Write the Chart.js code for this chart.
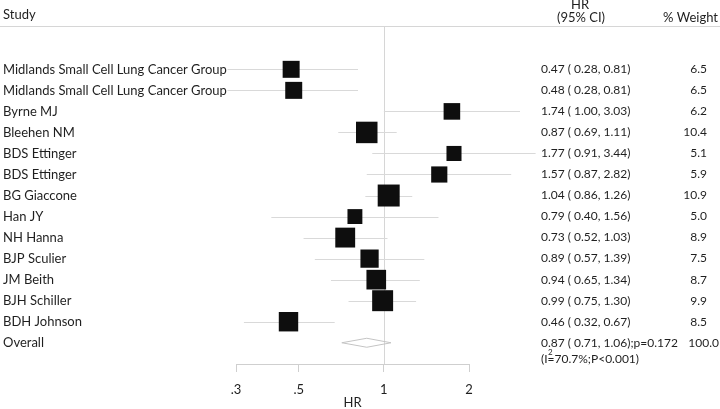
<!DOCTYPE html>
<html>
<head>
<meta charset="utf-8">
<script src="https://cdn.jsdelivr.net/npm/chart.js@4.4.1/dist/chart.umd.min.js"></script>
<style>
  html, body { margin: 0; padding: 0; background: #fff; }
  #plot { display: block; }
</style>
</head>
<body>
<canvas id="plot" width="720" height="409"></canvas>
<script>
const plot = document.querySelector("#plot");
const ctx = plot.getContext("2d");

const studies = [
  "Midlands Small Cell Lung Cancer Group",
  "Midlands Small Cell Lung Cancer Group",
  "Byrne MJ",
  "Bleehen NM",
  "BDS Ettinger",
  "BDS Ettinger",
  "BG Giaccone",
  "Han JY",
  "NH Hanna",
  "BJP Sculier",
  "JM Beith",
  "BJH Schiller",
  "BDH Johnson"
];
const hr = [0.47, 0.48, 1.74, 0.87, 1.77, 1.57, 1.04, 0.79, 0.73, 0.89, 0.94, 0.99, 0.46];
const ciLow = [0.28, 0.28, 1.00, 0.69, 0.91, 0.87, 0.86, 0.40, 0.52, 0.57, 0.65, 0.75, 0.32];
const ciHigh = [0.81, 0.81, 3.03, 1.11, 3.44, 2.82, 1.26, 1.56, 1.03, 1.39, 1.34, 1.30, 0.67];
const weights = [6.5, 6.5, 6.2, 10.4, 5.1, 5.9, 10.9, 5.0, 8.9, 7.5, 8.7, 9.9, 8.5];

const overallLabel = "Overall";
const overallHR = [0.87, 0.71, 1.06];   // estimate, low, high
const overallP = "0.172";
const overallWeight = "100.0";
const heterogeneity = ["70.7%", "P<0.001"];

const xTicks = [0.3, 0.5, 1, 2];
const xTickLabels = [".3", ".5", "1", "2"];

const FONT = "Lato, 'Open Sans', sans-serif";
const INK = "#1f1f1f";
const RULE = "#d6d6d6";

const f2 = v => v.toFixed(2);
const hrText = (e, l, h) => f2(e) + " ( " + f2(l) + ", " + f2(h) + ")";

// square area proportional to weight
const radii = weights.map(w => 4.71 * Math.sqrt(w));

const forestLayer = {
  id: "forestLayer",
  beforeDatasetsDraw(chart) {
    const { ctx, chartArea, scales: { x, y } } = chart;
    ctx.save();
    ctx.lineWidth = 1;
    ctx.strokeStyle = RULE;
    // header rule
    ctx.beginPath();
    ctx.moveTo(0, Math.round(chartArea.top) + 0.5);
    ctx.lineTo(chart.width, Math.round(chartArea.top) + 0.5);
    ctx.stroke();
    // null line at HR = 1
    const nx = Math.round(x.getPixelForValue(1)) + 0.5;
    ctx.beginPath();
    ctx.moveTo(nx, chartArea.top);
    ctx.lineTo(nx, chartArea.bottom);
    ctx.stroke();
    // confidence intervals
    ctx.strokeStyle = "#d9d9d9";
    for (let i = 0; i < studies.length; i++) {
      const py = Math.round(y.getPixelForValue(i)) + 0.5;
      ctx.beginPath();
      ctx.moveTo(x.getPixelForValue(ciLow[i]), py);
      ctx.lineTo(x.getPixelForValue(ciHigh[i]), py);
      ctx.stroke();
    }
    // pooled diamond
    const dy = y.getPixelForValue(studies.length);
    ctx.strokeStyle = "#c4c4c4";
    ctx.beginPath();
    ctx.moveTo(x.getPixelForValue(overallHR[1]), dy);
    ctx.lineTo(x.getPixelForValue(overallHR[0]), dy - 4.5);
    ctx.lineTo(x.getPixelForValue(overallHR[2]), dy);
    ctx.lineTo(x.getPixelForValue(overallHR[0]), dy + 4.5);
    ctx.closePath();
    ctx.stroke();
    ctx.restore();
  },
  afterDraw(chart) {
    const { ctx, scales: { y } } = chart;
    const big = "13px " + FONT;
    const num = "12px " + FONT;
    ctx.save();
    ctx.fillStyle = INK;
    ctx.font = big;
    ctx.textBaseline = "middle";

    // header
    ctx.textAlign = "left";
    ctx.fillText("Study", 3, 15);
    ctx.textAlign = "center";
    ctx.fillText("HR", 580, 5);
    ctx.fillText("(95% CI)", 581, 18);
    ctx.textAlign = "right";
    ctx.fillText("% Weight", 718, 18);

    for (let i = 0; i < studies.length; i++) {
      const py = y.getPixelForValue(i);
      ctx.font = big;
      ctx.textAlign = "left";
      ctx.fillText(studies[i], 3, py);
      ctx.font = num;
      ctx.fillText(hrText(hr[i], ciLow[i], ciHigh[i]), 541, py);
      ctx.textAlign = "right";
      ctx.fillText(weights[i].toFixed(1), 707, py);
    }

    const oy = y.getPixelForValue(studies.length);
    ctx.font = big;
    ctx.textAlign = "left";
    ctx.fillText(overallLabel, 3, oy);
    ctx.font = num;
    ctx.fillText(hrText(overallHR[0], overallHR[1], overallHR[2]) + ";p=" + overallP, 541, oy);
    ctx.textAlign = "right";
    ctx.fillText(overallWeight, 719, oy);

    // (I²=70.7%;P<0.001)
    const hy = oy + 16;
    ctx.textAlign = "left";
    let hx = 541;
    ctx.fillText("(I", hx, hy);
    hx += ctx.measureText("(I").width;
    ctx.font = "8px " + FONT;
    ctx.fillText("2", hx + 0.5, hy - 6);
    ctx.font = num;
    ctx.fillText("=" + heterogeneity[0] + ";" + heterogeneity[1] + ")", hx, hy);
    ctx.restore();
  }
};

const chart = new Chart(ctx, {
  type: "scatter",
  data: {
    datasets: [{
      data: hr.map((v, i) => ({ x: v, y: i })),
      pointStyle: "rect",
      pointRadius: radii,
      pointHoverRadius: radii,
      backgroundColor: "#0e0e0e",
      borderColor: "#0e0e0e",
      borderWidth: 0
    }]
  },
  options: {
    responsive: false,
    animation: false,
    events: [],
    layout: { padding: { left: 236, right: 251, top: 26, bottom: 0 } },
    plugins: { legend: { display: false }, tooltip: { enabled: false } },
    scales: {
      x: {
        type: "logarithmic",
        min: xTicks[0],
        max: xTicks[xTicks.length - 1],
        afterBuildTicks: s => { s.ticks = xTicks.map(v => ({ value: v })); },
        afterFit: s => { s.height = 45; },
        ticks: {
          autoSkip: false,
          maxRotation: 0,
          padding: 10,
          color: INK,
          font: { family: FONT, size: 13 },
          callback: (v, i) => xTickLabels[i]
        },
        grid: { drawOnChartArea: false, tickLength: 8, color: "#cfcfcf" },
        border: { display: true, color: "#cfcfcf" },
        title: {
          display: true,
          text: "HR",
          color: INK,
          font: { family: FONT, size: 13, lineHeight: 1 },
          padding: 0
        }
      },
      y: {
        type: "linear",
        display: false,
        reverse: true,
        min: -2.06,
        max: 14.01
      }
    }
  },
  plugins: [forestLayer]
});
</script>
</body>
</html>
